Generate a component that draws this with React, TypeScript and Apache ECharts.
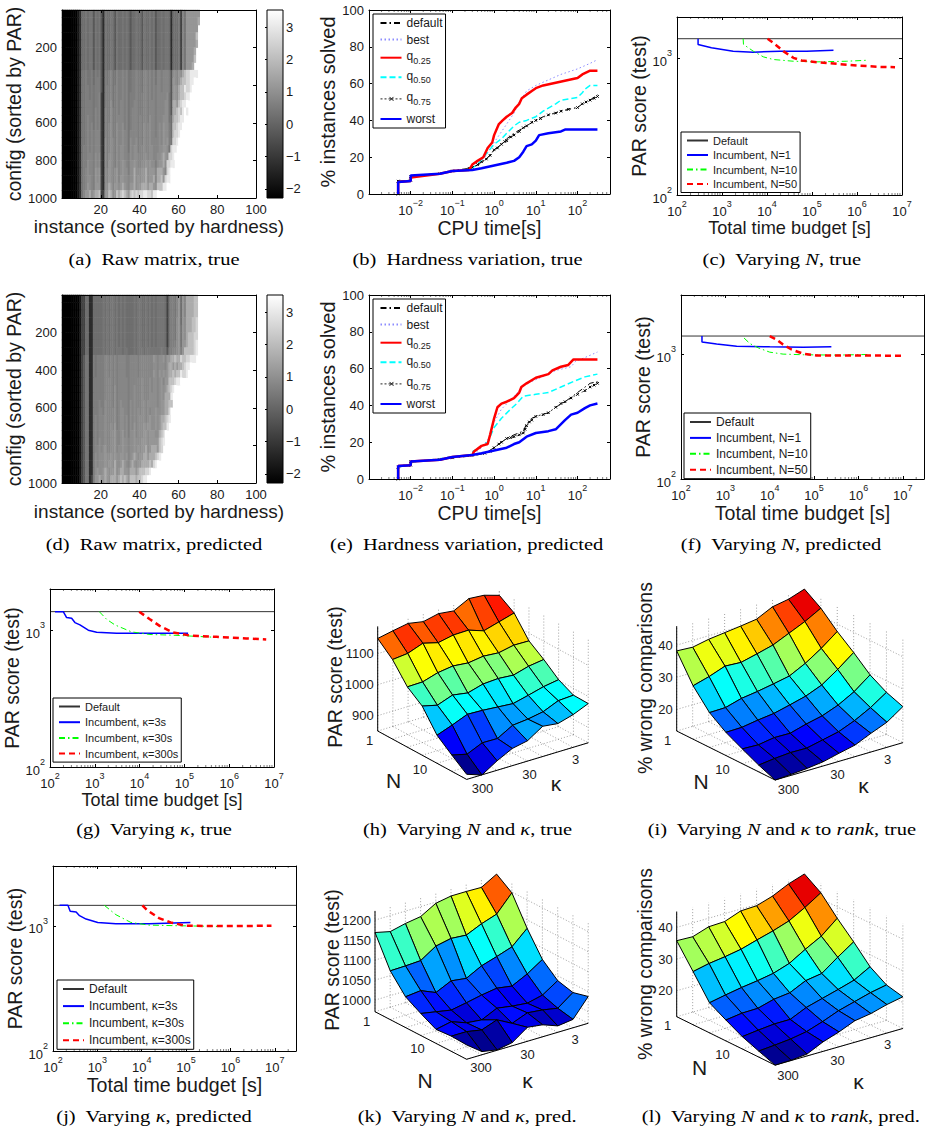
import React, { useEffect, useRef } from "react";
import * as echarts from "echarts";

const SANS = "Liberation Sans";
const SERIF = "Liberation Serif";
const INK = "#1a1a1a";

// ---------- (a)/(d) raw matrices: 25 rows (40 configs each), one hex digit per instance; missing = white
const matrixA = [
  "0000000012 5565664656 4265565465 5656545565 5465565645 5656652555 6386aaaaaa a",
  "0000000012 5565664656 4265565465 5656545565 5465565645 5656652555 6386aaaaaa b",
  "0000000012 5565664656 4265565465 5656545565 5465565645 5656652555 6386aaaaaa",
  "0000000012 5565664656 4265565465 5656545565 5465565645 5656652555 6386aaaaac",
  "0000000012 5565664656 4265565465 5656545565 5465565645 5656652555 6386aaaaab",
  "0000000012 5565664656 4265565465 5656545565 5465565645 5656652555 6386aaaab",
  "0000000012 5565664656 4265565465 5656545565 5465565645 5656652555 6386aaaac",
  "0000000012 5565664656 4265565465 5656545565 5465565645 5656652555 6386aaab",
  "0000000012 6676675767 4276786687 7878667787 7688787868 8788874998 a9bcddeeee",
  "0000000012 6676675777 4276786687 7878667787 7688787868 8788874a98 abccddeef",
  "0000000012 6677676777 4277786787 7878667787 7688787878 8788874aa9 bcceddef",
  "0000000012 6677676778 3277786787 7878677787 7788787878 8888964aa9 bccdeef",
  "0000000012 6677776778 3277796787 8878677887 7788788878 8889964bba cdeef",
  "0000000012 6677776878 3287797787 8878678887 7788788878 8889964bbc dcefe",
  "0000000012 6678776878 3287797788 8878678887 8788798878 8899965bcc deef",
  "0000000012 6678786878 3287897798 8978678887 8798898878 98a9975ccd eef",
  "0000000012 6678787888 3287897798 8988688887 8798898878 98a9975cdd ef",
  "0000000012 6678787888 3297898798 8988698897 8798898888 98a9a76dde f",
  "0000000012 6778787888 3297898798 9988698997 8898899888 99aa96dee",
  "0000000012 6778887989 3297998798 9988798998 8899899889 9aba9ddef",
  "0000000012 6779887989 3297a98798 9a98799a98 899a9a9979 aab9ddee",
  "0000000012 6789887a9a 3298a989a8 9a99799b99 9aab9aaa8b bba8def",
  "0000000012 6789987a9a 3298a989a8 aa99899b9a 9aab9aab8b bcadeef",
  "0000000012 678a987aaa 3299ba8aa9 aba98aab9a abbbabba9c cceef",
  "0000000012 68aab9abbc 33aacb9acb cdcbacdcdc ddeeddceef",
];
const matrixD = [
  "0000000001 3355225555 5656566565 6565555656 6556565656 6665367768 a5a8bbbbcc",
  "0000000001 3355225555 5656566565 6565555656 6556565656 6665367768 a5a8bbbbcc",
  "0000000001 3355225555 5656566565 6565555656 6556565656 6665367768 a5a8bbbbcc",
  "0000000001 3355225555 5656566565 6565555656 6556565656 6665367769 a5a9bbbccd",
  "0000000001 3355225555 5656566565 6565555656 6556565656 6665367769 a6a9bbbccd",
  "0000000001 3355225555 5656566565 6565555656 6556565656 6665367769 a6a9bcccdd",
  "0000000001 3355225555 5656566565 6565555656 6556565656 6665367779 a6aabcccde",
  "0000000001 3355225555 5656566566 6566555656 6656666666 6766477889 a7acccccde",
  "0000000001 3466227677 7788787878 8887788887 8888888a98 99a8aabbcb bdccddeee",
  "0000000001 3466227677 7788787878 8887788887 8888888998 9998abbaba bbcdeef",
  "0000000001 3466227677 7788787878 8887788887 8888888a98 a9a9abbcbc ceddef",
  "0000000001 3466227777 7788887878 8888788888 8988898998 9a8aacccde ef",
  "0000000001 3466227777 7788887978 8888788988 8988898998 9a9abcdef",
  "0000000001 3466227777 7788887978 8888788988 8988899998 9a9bbbe",
  "0000000001 3466227778 7798887978 9888798988 8998999998 9aabbcc",
  "0000000001 3466227778 8798888978 9988798989 89989899a9 9aabbdf",
  "0000000001 3466227878 8898888978 9989798989 99989a99a9 abbcde",
  "0000000001 3466227878 8898898a78 9989798a89 99a9aa99a9 abcce",
  "0000000001 3466227878 8898899a88 9a89799a89 99aa9aaa99 bcdf",
  "0000000001 3466227879 8898899a88 9a99899a99 9aaa9aaaaa cde",
  "0000000001 3466227889 89a8899a89 9a99899a9a 9aab9abbba cd",
  "0000000001 3466227989 99a99a9a99 aa9a89aba9 aabbabbbcd e",
  "0000000001 3466227989 99a9aa9b99 aba98aba9a abbbbcbdef",
  "0000000001 34662279a9 9aba9aab9a bbaa9bbbab cccddef",
  "0000000001 3466237aab aaba9bbbab cbcbacccbc cdeeff",
];

// ---------- (b) hardness variation, true
const bDefault = [[0.005,0],[0.005,7],[0.01,7.5],[0.01,9.5],[0.05,11],[0.1,12.5],[0.25,14],[0.35,15],[0.5,17],[0.8,21],[1,24],[1.5,27],[2,30],[3,33],[5,36],[7,38],[10,40],[15,42],[20,43],[40,45],[60,46],[100,47],[130,49],[200,51],[300,54]];
const bBest = [[0.005,0],[0.005,6.5],[0.01,7],[0.01,9],[0.05,11],[0.1,12.5],[0.25,13],[0.4,16],[0.6,20],[1,28],[2,38],[3,44],[4,50],[6,56],[10,59],[20,62],[40,65],[100,68],[200,71],[300,73]];
const bQ25 = [[0.005,0],[0.005,6.5],[0.01,7],[0.01,9],[0.05,11],[0.1,12.5],[0.25,13],[0.3,16],[0.4,18],[0.55,20],[0.7,25],[0.9,28],[1,32],[1.3,38],[1.6,40],[2,42],[2.7,44],[3.3,47],[4,49],[4.6,52],[6,54],[8,56],[10,57.5],[15,59],[30,60.5],[60,62],[100,63],[130,65],[200,67],[300,67]];
const bQ50 = [[0.005,0],[0.005,6.5],[0.01,7],[0.01,9.5],[0.05,11],[0.1,12.5],[0.25,13],[0.4,16],[0.6,21],[1,27],[1.5,30],[2,33],[3,37],[4,39],[6,40],[10,42],[15,45],[30,49],[40,51],[100,52.5],[130,55],[150,57],[200,59],[300,59]];
const bQ75 = [[0.005,0],[0.005,7],[0.01,7.5],[0.01,9.5],[0.05,11],[0.1,12.5],[0.25,14],[0.3,14.5],[0.4,16],[0.5,17.5],[0.65,19],[0.8,21],[1,24],[1.2,25],[1.5,27],[1.8,28.5],[2,29],[2.5,31],[3,32],[4,34],[5,36],[6,37],[8,39],[10,40],[13,41],[20,43],[30,44],[40,45],[60,46],[100,47],[130,49],[160,50],[200,51],[250,52],[300,53]];
const bWorst = [[0.005,0],[0.005,6.5],[0.01,7],[0.01,10],[0.05,11],[0.1,12.5],[0.3,13],[0.5,14],[1,15.5],[2,17],[3,18],[4,20],[5,23],[6,26],[8,27],[10,29],[12,32],[20,33],[40,34],[50,35],[300,35]];

// ---------- (e) hardness variation, predicted
const eDefault = [[0.005,0],[0.005,7],[0.01,8],[0.01,9.5],[0.05,10.5],[0.1,11.5],[0.3,12.5],[0.6,14],[1,17],[1.5,20],[2,22],[3,24],[5,26],[6,30],[8,33],[10,34],[20,36],[30,39],[50,42],[100,47],[200,52],[300,53]];
const eBest = [[0.005,0],[0.005,6.5],[0.01,7.5],[0.01,9.5],[0.05,10.5],[0.1,12],[0.3,13],[0.5,17],[0.8,23],[1,31],[1.5,38],[2.5,43],[4,48],[5,51],[10,54],[20,57],[30,59],[70,61],[90,64],[150,66],[300,69]];
const eQ25 = [[0.005,0],[0.005,7],[0.01,7.5],[0.01,9.5],[0.05,10.5],[0.1,12],[0.3,13],[0.33,15],[0.5,18],[0.7,19],[0.8,24],[1,33],[1.2,39],[1.5,41],[2,42],[3,44],[4,47],[4.5,50],[6,52],[10,55],[20,57],[25,59],[40,61],[60,62],[80,65],[300,65]];
const eQ50 = [[0.005,0],[0.005,6.5],[0.01,7.5],[0.01,9],[0.05,11],[0.1,12],[0.3,13],[0.31,15],[0.5,18],[0.7,20],[1,28],[1.5,33],[2.5,38],[3.5,41],[5,45],[10,46],[20,47],[40,50],[80,53],[150,55.5],[300,57]];
const eQ75 = [[0.005,0],[0.005,6.5],[0.01,7.5],[0.01,9.5],[0.05,10.5],[0.1,11.5],[0.3,13],[0.6,14],[0.8,15],[1,17],[1.3,19],[1.5,20],[2,22],[2.5,22.5],[3,23],[4,24],[5,25],[5.5,27],[6,29],[7,31],[8,32],[10,34],[15,35],[20,36],[30,39],[40,41],[50,42],[70,44],[100,46],[150,48],[200,50],[250,51],[300,52]];
const eWorst = [[0.005,0],[0.005,7],[0.01,7.5],[0.01,9.5],[0.05,10.5],[0.1,12],[0.3,13],[0.5,14],[1,15.5],[2,17],[3,19],[4,20],[6,23],[10,25],[20,26],[30,27],[50,32],[70,35],[100,36],[150,38.5],[200,40],[300,41]];

// ---------- (c) varying N, true
const cDefault = 1388;
const cN1 = [[294,1388],[294,1260],[582,1190],[1770,1126],[4940,1107],[19400,1126],[76000,1126],[300000,1145]];
const cN10 = [[2950,1388],[3000,1260],[4940,1126],[8260,1023],[13800,978],[38500,950],[127000,940],[594000,950],[1800000,967]];
const cN50 = [[10300,1388],[13800,1295],[23000,1126],[38500,1006],[58700,961],[127000,935],[355000,909],[1180000,880],[3300000,864],[7000000,859]];

// ---------- (f) varying N, predicted
const fDefault = 1405;
const fN1 = [[297,1405],[297,1260],[635,1215],[1795,1165],[10000,1150],[57000,1143],[245000,1150]];
const fN10 = [[2630,1356],[3580,1222],[5500,1130],[10000,1043],[20000,1006],[57000,994],[320000,988],[1800000,1000]];
const fN50 = [[10000,1405],[14300,1316],[20000,1200],[31000,1096],[57000,1012],[113000,982],[760000,982],[9300000,976]];

// ---------- (g) varying kappa, true
const gDefault = 1366;
const gK3 = [[129,1366],[198,1366],[235,1237],[304,1223],[360,1137],[466,1093],[715,1000],[1100,967],[3060,951],[17000,951],[121000,951]];
const gK30 = [[1260,1366],[1830,1202],[2810,1093],[6600,972],[17000,930],[56000,919],[437000,889]];
const gK300 = [[9800,1366],[17000,1202],[28000,1075],[56000,962],[132000,914],[519000,894],[2400000,870],[6700000,855]];

// ---------- (j) varying kappa, predicted
const jDefault = 1455;
const jK3 = [[141,1456],[217,1456],[244,1303],[332,1287],[396,1203],[557,1131],[1020,1063],[2620,1037],[14600,1037],[125000,1063]];
const jK30 = [[1435,1456],[2620,1225],[5680,1063],[14600,1012],[68500,1000],[537000,988]];
const jK300 = [[10350,1456],[13400,1327],[24400,1152],[44700,1063],[96600,1000],[760000,994],[8400000,1000]];

// ---------- surfaces: rows are N (1 .. 300), columns are kappa (300 .. 3)
const surfaceH = [
  [1149,1159,1168,1159,1170,1164,1189,1185,1170],
  [1107,1112,1130,1117,1127,1128,1111,1125,1139],
  [1045,1046,1061,1068,1063,1070,1066,1076,1075],
  [1009,997,1015,1007,1021,1024,1020,1034,1041],
  [941,959,979,977,973,969,981,994,1002],
  [903,891,913,912,940,945,954,975,978],
  [867,850,881,906,916,948,942,956,977],
];
const surfaceI = [
  [38.2,37.9,38.9,39.5,40.1,40.8,43.2,44.1,45.8],
  [29.9,31.3,33.1,32.8,34,35.3,37.5,39.7,42.4],
  [24.1,24.2,25.6,26.3,27.2,28.2,30.7,33.9,37.7],
  [20.5,20.6,21.4,22,23.2,24.5,26.5,29.9,33.7],
  [17.9,17.7,18.5,18.4,19.8,20.9,22.8,25.5,29.3],
  [15.4,16,16.4,16.3,17.4,18.5,20.5,23.1,26.4],
  [13.3,13.6,14,14.6,15.8,16.9,19.1,21.1,24.5],
];
const surfaceK = [
  [1169,1160,1169,1175,1197,1204,1204,1203,1225],
  [1093,1094,1096,1121,1129,1126,1143,1156,1198],
  [1048,1052,1036,1054,1049,1069,1081,1094,1129],
  [1026,1019,1012,1019,1027,1033,1027,1046,1071],
  [1006,1014,1000,996,1014,1008,1004,1013,1038],
  [1009,1009,1002,1016,996,1011,1007,1000,1028],
  [1007,979,972,979,1006,1001,987,992,1038],
];
const surfaceL = [
  [35.8,35.6,37.3,37.5,39.4,39.6,41.2,43.6,45.3],
  [28.6,29.7,30.4,31.3,32.8,34.2,35.9,38.7,41.9],
  [21.3,22.3,23.2,23.9,24.8,26.5,29.5,32.2,36.4],
  [18.4,19.1,19.2,20.6,21.2,23.6,24.4,28.1,31.5],
  [15.7,16.3,16.8,16.8,19.1,20.5,21.9,23.4,26.2],
  [13.7,14.1,14.6,15.5,17.2,19.2,20.6,22,23],
  [11.8,11.9,12.4,14.8,16.5,18.6,19.4,20.8,21.8],
];

const xTicksMatrix = [20, 40, 60, 80, 100];
const colorbarTicks = [-2, -1, 0, 1, 2, 3];

const captions: [string, number, number][] = [
  ["(a)  Raw matrix, true", 154, 259],
  ["(b)  Hardness variation, true", 467.5, 259],
  ["(c)  Varying {it|N}, true", 781.7, 259],
  ["(d)  Raw matrix, predicted", 154, 544],
  ["(e)  Hardness variation, predicted", 466.7, 544],
  ["(f)  Varying {it|N}, predicted", 781, 544],
  ["(g)  Varying {it|κ}, true", 154, 829],
  ["(h)  Varying {it|N} and {it|κ}, true", 467.5, 829],
  ["(i)  Varying {it|N} and {it|κ} to {it|rank}, true", 781.7, 829],
  ["(j)  Varying {it|κ}, predicted", 154, 1115.7],
  ["(k)  Varying {it|N} and {it|κ}, pred.", 467, 1115.7],
  ["(l)  Varying {it|N} and {it|κ} to {it|rank}, pred.", 780.7, 1115.7],
];

// ---------- option parts
const grids: any[] = [];
const xAxes: any[] = [];
const yAxes: any[] = [];
const series: any[] = [];
const legends: any[] = [];
const graphics: any[] = [];
const heatSeries: number[] = [];

const tickStyle = { show: true, inside: true, length: 3, lineStyle: { color: "#000", width: 1 } };
const lineStyleAxis = { show: true, onZero: false, lineStyle: { color: "#000", width: 1 } };
const labelBase = { color: INK, fontFamily: SANS, fontSize: 13 };

function powLabel(v: number, hide: number | null) {
  const e = Math.log10(v);
  const r = Math.round(e);
  if (Math.abs(e - r) > 1e-6 || r === hide) return "";
  return `{b|10}{e|${r < 0 ? "−" + -r : r}}`;
}
const powRich = {
  b: { fontSize: 13, color: INK, fontFamily: SANS, lineHeight: 19, verticalAlign: "bottom" },
  e: { fontSize: 9, color: INK, fontFamily: SANS, verticalAlign: "top" },
};

function addGrid(b: number[]) {
  grids.push({ left: b[0], top: b[1], width: b[2] - b[0], height: b[3] - b[1], containLabel: false });
  return grids.length - 1;
}
function mirrorAxes(gridIndex: number, xBase: any, yBase: any) {
  xAxes.push({ ...xBase, gridIndex, position: "top", name: "", axisLabel: { show: false }, axisLine: lineStyleAxis, axisTick: tickStyle, splitLine: { show: false }, z: 5 });
  yAxes.push({ ...yBase, gridIndex, position: "right", name: "", axisLabel: { show: false }, axisLine: lineStyleAxis, axisTick: tickStyle, splitLine: { show: false }, z: 5 });
}

function addMatrix(box: number[], rows: string[], nameGapX: number) {
  const gridIndex = addGrid(box);
  const xi = xAxes.length;
  const yi = yAxes.length;
  const cols: string[] = [];
  for (let c = 1; c <= 100; c++) cols.push(String(c));
  xAxes.push({ type: "category", gridIndex, data: cols, show: false });
  yAxes.push({ type: "category", gridIndex, data: rows.map((_, i) => String(i)), show: false, inverse: true });
  const data: number[][] = [];
  rows.forEach((row, r) => {
    row.replace(/ /g, "").split("").forEach((ch, c) => {
      data.push([c, r, parseInt(ch, 16)]);
    });
  });
  heatSeries.push(series.length);
  series.push({ type: "heatmap", xAxisIndex: xi, yAxisIndex: yi, data, progressive: 0, silent: true, emphasis: { disabled: true } });
  const xv = { type: "value", min: 0, max: 100, interval: 20 };
  const yv = { type: "value", min: 0, max: 1000, interval: 200, inverse: true };
  xAxes.push({
    ...xv, gridIndex, position: "bottom", z: 5, axisLine: lineStyleAxis, axisTick: tickStyle, splitLine: { show: false },
    axisLabel: { ...labelBase, margin: 5, formatter: (v: number) => (xTicksMatrix.includes(v) ? String(v) : "") },
    name: "instance (sorted by hardness)", nameLocation: "middle", nameGap: nameGapX,
    nameTextStyle: { fontFamily: SANS, fontSize: 19, color: INK },
  });
  yAxes.push({
    ...yv, gridIndex, position: "left", z: 5, axisLine: lineStyleAxis, axisTick: tickStyle, splitLine: { show: false },
    axisLabel: { ...labelBase, margin: 5, formatter: (v: number) => (v === 0 ? "" : String(v)) },
    name: "config (sorted by PAR)", nameLocation: "middle", nameGap: 32,
    nameTextStyle: { fontFamily: SANS, fontSize: 19.5, color: INK },
  });
  mirrorAxes(gridIndex, xv, yv);
  // colour bar
  const cb = [box[0] + 205, box[1], box[0] + 221, box[3]];
  const cg = addGrid(cb);
  const cx = xAxes.length;
  const cy = yAxes.length;
  xAxes.push({ type: "value", gridIndex: cg, min: 0, max: 1, show: false });
  yAxes.push({
    type: "value", gridIndex: cg, min: -2.28, max: 3.53, position: "right", z: 5,
    axisLine: { show: false }, splitLine: { show: false },
    axisTick: { show: true, inside: true, length: 2, customValues: colorbarTicks, lineStyle: { color: "#000" } },
    axisLabel: { ...labelBase, margin: 3, customValues: colorbarTicks, formatter: (v: number) => (v < 0 ? "−" + -v : String(v)) },
  });
  series.push({
    type: "custom", xAxisIndex: cx, yAxisIndex: cy, silent: true, data: [[0, 1, -2.28, 3.53]],
    renderItem: (_: any, api: any) => {
      const p0 = api.coord([api.value(0), api.value(3)]);
      const p1 = api.coord([api.value(1), api.value(2)]);
      return {
        type: "rect",
        shape: { x: p0[0], y: p0[1], width: p1[0] - p0[0], height: p1[1] - p0[1] },
        style: { fill: new echarts.graphic.LinearGradient(0, 1, 0, 0, [{ offset: 0, color: "#000" }, { offset: 1, color: "#fff" }]) },
      };
    },
  });
  graphics.push({
    type: "rect", z: 100, silent: true,
    shape: { x: cb[0], y: cb[1], width: cb[2] - cb[0], height: cb[3] - cb[1] },
    style: { fill: "none", stroke: "#000", lineWidth: 1 },
  });
}

const DD = [6, 3, 1.5, 3];
const styleOf: Record<string, any> = {
  default: { color: "#000", width: 1, type: DD },
  best: { color: "#8c8cff", width: 1, type: [1.5, 2.5] },
  "q0.25": { color: "#ff0000", width: 2.5, type: "solid" },
  "q0.50": { color: "#00ffff", width: 1.5, type: [6, 3] },
  "q0.75": { color: "#555", width: 1, type: [1.5, 3] },
  worst: { color: "#0000ff", width: 2.5, type: "solid" },
  Default: { color: "#333", width: 1, type: "solid" },
  blue: { color: "#0000ff", width: 1.5, type: "solid" },
  green: { color: "#00ff00", width: 1, type: DD },
  red: { color: "#ff0000", width: 2.5, type: [6, 4] },
};
const noMarker = { opacity: 0, color: "transparent", borderColor: "transparent", borderWidth: 0 };
const q75Icon = "path://M0 0L0 0M0 14L0 14M0 7L2 7M4 7L6 7M8 7L13 7M15 7L17 7M19 7L21 7M9 5L13 9M13 5L9 9";

function minorValues(min: number, max: number) {
  const out: number[] = [];
  for (let e = Math.floor(Math.log10(min)); e <= Math.log10(max); e++) {
    for (const m of [2, 3, 4, 5, 6, 7, 8, 9]) {
      const v = m * Math.pow(10, e);
      if (v > min && v < max) out.push(v);
    }
  }
  return out;
}

function addMinorTicks(xi: number, yi: number, xMin: number, xMax: number, yMin: number, yMax: number) {
  series.push({
    type: "custom", xAxisIndex: xi, yAxisIndex: yi, silent: true, clip: false,
    data: minorValues(xMin, xMax).map((v) => [v]),
    renderItem: (_: any, api: any) => {
      const a = api.coord([api.value(0), yMin]);
      const b = api.coord([api.value(0), yMax]);
      const s = { stroke: "#444", lineWidth: 0.7 };
      return {
        type: "group",
        children: [
          { type: "line", shape: { x1: a[0], y1: a[1], x2: a[0], y2: a[1] - 2 }, style: s },
          { type: "line", shape: { x1: b[0], y1: b[1], x2: b[0], y2: b[1] + 2 }, style: s },
        ],
      };
    },
  });
}

function addHardness(box: number[], sets: [string, number[][]][], legendPos: number[]) {
  const gridIndex = addGrid(box);
  const xi = xAxes.length;
  const yi = yAxes.length;
  const xb = { type: "log", logBase: 10, min: 0.001, max: 600 };
  const yb = { type: "value", min: 0, max: 100, interval: 20 };
  xAxes.push({
    ...xb, gridIndex, position: "bottom", z: 5, axisLine: lineStyleAxis, axisTick: tickStyle, splitLine: { show: false },
    axisLabel: { margin: 4, formatter: (v: number) => powLabel(v, -3), rich: powRich, showMinLabel: false },
    name: "CPU time[s]", nameLocation: "middle", nameGap: 20,
    nameTextStyle: { fontFamily: SANS, fontSize: 19.5, color: INK },
  });
  yAxes.push({
    ...yb, gridIndex, position: "left", z: 5, axisLine: lineStyleAxis, axisTick: tickStyle, splitLine: { show: false },
    axisLabel: { ...labelBase, margin: 5 },
    name: "% instances solved", nameLocation: "middle", nameGap: 26,
    nameTextStyle: { fontFamily: SANS, fontSize: 20, color: INK },
  });
  mirrorAxes(gridIndex, xb, yb);
  for (const [name, data] of sets) {
    const marked = name === "q0.75";
    series.push({
      type: "line", name, xAxisIndex: xi, yAxisIndex: yi, data, color: styleOf[name].color,
      lineStyle: styleOf[name], silent: true, z: name === "q0.25" || name === "worst" ? 4 : 3,
      symbol: marked ? "path://M0 0L10 10M10 0L0 10L5 5Z" : "none",
      symbolSize: 2.5, showSymbol: marked,
      itemStyle: { color: "#000", borderColor: "#000", borderWidth: 1 },
    });
  }
  addMinorTicks(xi, yi, 0.001, 600, 0, 100);
  legends.push({
    data: sets.map((s) =>
      s[0] === "q0.75"
        ? { name: s[0], icon: q75Icon, itemStyle: { color: "none", borderColor: "#222", borderWidth: 1 } }
        : { name: s[0], itemStyle: noMarker }
    ),
    left: legendPos[0], top: legendPos[1], orient: "vertical",
    selectedMode: false, itemWidth: 21, itemHeight: 14, itemGap: 4.6, padding: [3, 3, 3, 5],
    backgroundColor: "#fff", borderColor: "#000", borderWidth: 1, z: 20,
    formatter: (n: string) => (n[0] === "q" ? `{b|q}{s|${n.slice(1)}}` : n),
    textStyle: {
      fontFamily: SANS, fontSize: 12, color: INK,
      rich: {
        b: { fontFamily: SANS, fontSize: 12, color: INK, verticalAlign: "top", lineHeight: 15 },
        s: { fontFamily: SANS, fontSize: 9, color: INK, verticalAlign: "bottom" },
      },
    },
  });
}

function addBudget(o: {
  box: number[]; xMax: number; yMax: number; def: number; names: string[]; sets: number[][][];
  legend: number[]; font: number; rowGap: number; nameSize: number; gapX: number; gapY: number;
}) {
  const gridIndex = addGrid(o.box);
  const xi = xAxes.length;
  const yi = yAxes.length;
  const xb = { type: "log", logBase: 10, min: 100, max: o.xMax };
  const yb = { type: "log", logBase: 10, min: 100, max: o.yMax };
  xAxes.push({
    ...xb, gridIndex, position: "bottom", z: 5, axisLine: lineStyleAxis, axisTick: tickStyle, splitLine: { show: false },
    axisLabel: { margin: 4, formatter: (v: number) => powLabel(v, null), rich: powRich },
    name: "Total time budget [s]", nameLocation: "middle", nameGap: o.gapX,
    nameTextStyle: { fontFamily: SANS, fontSize: o.nameSize, color: INK },
  });
  yAxes.push({
    ...yb, gridIndex, position: "left", z: 5, axisLine: lineStyleAxis, axisTick: tickStyle, splitLine: { show: false },
    axisLabel: { margin: 5, formatter: (v: number) => powLabel(v, null), rich: powRich },
    name: "PAR score (test)", nameLocation: "middle", nameGap: o.gapY,
    nameTextStyle: { fontFamily: SANS, fontSize: 19.5, color: INK },
  });
  mirrorAxes(gridIndex, xb, yb);
  series.push({
    type: "line", name: "Default", xAxisIndex: xi, yAxisIndex: yi, silent: true, symbol: "none",
    data: [[100, o.def], [o.xMax, o.def]], color: styleOf.Default.color, lineStyle: styleOf.Default,
  });
  const keys = ["blue", "green", "red"];
  o.sets.forEach((data, i) => {
    const st = styleOf[keys[i]];
    series.push({
      type: "line", name: o.names[i], xAxisIndex: xi, yAxisIndex: yi, silent: true, symbol: "none",
      data, color: st.color, lineStyle: st, z: 3 + i,
    });
  });
  addMinorTicks(xi, yi, 100, o.xMax, 100, o.yMax);
  legends.push({
    data: ["Default", ...o.names].map((name) => ({ name, itemStyle: noMarker })),
    left: o.legend[0], top: o.legend[1], orient: "vertical",
    selectedMode: false, itemWidth: 21, itemHeight: 11, itemGap: o.rowGap - 11, padding: [3, 3, 3, 5],
    backgroundColor: "#fff", borderColor: "#000", borderWidth: 1, z: 20,
    textStyle: { fontFamily: SANS, fontSize: o.font, color: INK },
  });
}

// ---------- 3D surfaces through a page-sized hidden cartesian system
const jetStops: [number, number[]][] = [
  [0, [0, 0, 143]], [0.125, [0, 0, 255]], [0.375, [0, 255, 255]],
  [0.625, [255, 255, 0]], [0.875, [255, 0, 0]], [1, [128, 0, 0]],
];
function jet(t: number) {
  const v = Math.max(0, Math.min(1, t));
  for (let k = 1; k < jetStops.length; k++) {
    if (v <= jetStops[k][0]) {
      const [a, ca] = jetStops[k - 1];
      const [b, cb] = jetStops[k];
      const f = (v - a) / (b - a);
      return `rgb(${ca.map((c, n) => Math.round(c + (cb[n] - c) * f)).join(",")})`;
    }
  }
  return "rgb(128,0,0)";
}

function addSurface(o: {
  values: number[][]; origin: number[]; dN: number[]; dK: number[]; zBase: number; zTop: number; zPx: number;
  zTicks: number[]; yName: string; yNamePos: number[]; ticks: [string, number, number][]; names: [string, number, number][];
  cHi?: number;
}) {
  const pageGrid = 0;
  const project = (i: number, j: number, z: number) => [
    o.origin[0] + i * o.dN[0] + j * o.dK[0],
    o.origin[1] + i * o.dN[1] + j * o.dK[1] - (z - o.zBase) * o.zPx,
  ];
  const nI = o.values.length - 1;
  const nJ = o.values[0].length - 1;
  const dotted: number[][] = [];
  for (let i = 0; i <= nI; i++) dotted.push([i, 0, o.zBase, i, nJ, o.zBase]);
  for (let j = 0; j <= nJ; j++) dotted.push([0, j, o.zBase, nI, j, o.zBase]);
  for (const z of o.zTicks) {
    dotted.push([0, 0, z, 0, nJ, z]);
    dotted.push([0, nJ, z, nI, nJ, z]);
  }
  for (let j = 0; j <= nJ; j++) dotted.push([0, j, o.zBase, 0, j, o.zTop]);
  for (let i = 0; i <= nI; i++) dotted.push([i, nJ, o.zBase, i, nJ, o.zTop]);
  const solid = [
    [0, 0, o.zBase, nI, 0, o.zBase],
    [nI, 0, o.zBase, nI, nJ, o.zBase],
    [0, 0, o.zBase, 0, 0, o.zTop],
  ];
  const segment = (stroke: string, lineWidth: number, lineDash?: number[]) => (_: any, api: any) => {
    const a = project(api.value(0), api.value(1), api.value(2));
    const b = project(api.value(3), api.value(4), api.value(5));
    const p = api.coord(a);
    const q = api.coord(b);
    return {
      type: "line", shape: { x1: p[0], y1: p[1], x2: q[0], y2: q[1] },
      style: { stroke, lineWidth, lineDash, fill: "none" },
    };
  };
  series.push({ type: "custom", xAxisIndex: pageGrid, yAxisIndex: pageGrid, silent: true, clip: false, z: 1, data: dotted, renderItem: segment("#777", 0.7, [1, 2]) });
  series.push({ type: "custom", xAxisIndex: pageGrid, yAxisIndex: pageGrid, silent: true, clip: false, z: 1, data: solid, renderItem: segment("#000", 1) });
  const flat = o.values.flat();
  const lo = Math.min(...flat);
  const hi = o.cHi ?? Math.max(...flat);
  const cells: number[][] = [];
  for (let i = 0; i < nI; i++) for (let j = nJ - 1; j >= 0; j--) cells.push([i, j, o.values[i + 1][j + 1]]);
  series.push({
    type: "custom", xAxisIndex: pageGrid, yAxisIndex: pageGrid, silent: true, clip: false, z: 2, data: cells,
    renderItem: (_: any, api: any) => {
      const i = api.value(0);
      const j = api.value(1);
      const corners = [[i, j], [i + 1, j], [i + 1, j + 1], [i, j + 1]];
      const points = corners.map(([a, b]) => api.coord(project(a, b, o.values[a][b])));
      return {
        type: "polygon", shape: { points },
        style: { fill: jet((api.value(2) - lo) / (hi - lo)), stroke: "#000", lineWidth: 1, lineJoin: "round" },
      };
    },
  });
  for (const z of o.zTicks) {
    const p = project(0, 0, z);
    graphics.push(txt(String(z), p[0] - 4, p[1], { fontSize: 13, align: "right" }));
  }
  graphics.push(txt(o.yName, o.yNamePos[0], o.yNamePos[1], { fontSize: 19.5, rotation: Math.PI / 2 }));
  for (const [t, x, y] of o.ticks) graphics.push(txt(t, x, y, { fontSize: 13 }));
  for (const [t, x, y] of o.names) graphics.push(txt(t, x, y, { fontSize: 21 }));
}

function txt(text: string, x: number, y: number, s: any) {
  return {
    type: "text", x, y, rotation: s.rotation || 0, z: 50, silent: true,
    style: { text, fontFamily: SANS, fontSize: s.fontSize, fill: INK, align: s.align || "center", verticalAlign: "middle" },
  };
}

function build() {
  // page-sized hidden cartesian for the projected surfaces
  grids.push({ left: 0, top: 0, width: 930, height: 1133, containLabel: false });
  xAxes.push({ type: "value", gridIndex: 0, min: 0, max: 930, show: false });
  yAxes.push({ type: "value", gridIndex: 0, min: 0, max: 1133, inverse: true, show: false });

  addMatrix([62, 10, 256, 198], matrixA, 16);
  addMatrix([62, 295, 256, 483], matrixD, 16);

  addHardness([369, 10, 610, 194], [["default", bDefault], ["best", bBest], ["q0.25", bQ25], ["q0.50", bQ50], ["q0.75", bQ75], ["worst", bWorst]], [373, 14]);
  addHardness([369, 295, 610, 479], [["default", eDefault], ["best", eBest], ["q0.25", eQ25], ["q0.50", eQ50], ["q0.75", eQ75], ["worst", eWorst]], [373, 299]);

  const nNames = ["Incumbent, N=1", "Incumbent, N=10", "Incumbent, N=50"];
  const kNames = ["Incumbent, κ=3s", "Incumbent, κ=30s", "Incumbent, κ=300s"];
  addBudget({ box: [677, 17, 902, 195], xMax: 1e7, yMax: 2000, def: cDefault, names: nNames, sets: [cN1, cN10, cN50], legend: [681, 132], font: 11, rowGap: 14.5, nameSize: 18.2, gapX: 19, gapY: 21 });
  addBudget({ box: [681, 295, 924, 479], xMax: 3e7, yMax: 3000, def: fDefault, names: nNames, sets: [fN1, fN10, fN50], legend: [684, 413], font: 12, rowGap: 14.9, nameSize: 19.6, gapX: 20, gapY: 25 });
  addBudget({ box: [50, 589, 274, 767], xMax: 1e7, yMax: 2000, def: gDefault, names: kNames, sets: [gK3, gK30, gK300], legend: [53, 698], font: 11, rowGap: 15.7, nameSize: 18, gapX: 18, gapY: 22 });
  addBudget({ box: [53, 866, 296, 1051], xMax: 3e7, yMax: 3000, def: jDefault, names: kNames, sets: [jK3, jK30, jK300], legend: [57, 980], font: 12, rowGap: 16.1, nameSize: 19.6, gapX: 19, gapY: 25 });

  addSurface({
    values: surfaceH, origin: [377.7, 731], dN: [14.83, 8.07], dK: [15.2, -4.58], zBase: 850.5, zTop: 1188, zPx: 0.31,
    zTicks: [900, 1000, 1100], yName: "PAR score (test)", yNamePos: [335, 677],
    ticks: [["1", 369.5, 740.5], ["10", 420, 769], ["300", 482.5, 788.5], ["3", 575.5, 759], ["30", 529.5, 774]],
    names: [["N", 393.5, 780], ["κ", 556, 783]],
  });
  addSurface({
    values: surfaceI, origin: [676.7, 731], dN: [16.4, 8.17], dK: [15.97, -4.67], zBase: 13.3, zTop: 45.9, zPx: 3.217,
    zTicks: [20, 30, 40], yName: "% wrong comparisons", yNamePos: [645, 678],
    ticks: [["1", 667.5, 740], ["10", 722.5, 769], ["300", 788.5, 789.5], ["3", 887.5, 759], ["30", 837.5, 774]],
    names: [["N", 701, 781.5], ["κ", 863.5, 785]],
  });
  addSurface({
    values: surfaceK, origin: [375, 1011.7], dN: [15.27, 7.93], dK: [15.2, -4.5], zBase: 971, zTop: 1223, zPx: 0.4, cHi: 1260,
    zTicks: [1000, 1050, 1100, 1150, 1200], yName: "PAR score (test)", yNamePos: [332, 960],
    ticks: [["1", 366.5, 1021], ["10", 417.5, 1048], ["300", 481, 1067.5], ["3", 575, 1039], ["30", 527.5, 1054]],
    names: [["N", 425, 1080], ["κ", 527.5, 1080]],
  });
  addSurface({
    values: surfaceL, origin: [676.7, 1016.7], dN: [16.4, 8.07], dK: [15.97, -4.58], zBase: 11.8, zTop: 45, zPx: 3.167,
    zTicks: [20, 30, 40], yName: "% wrong comparisons", yNamePos: [645, 964],
    ticks: [["1", 667.5, 1025.7], ["10", 722.5, 1054], ["300", 788, 1075], ["3", 887.5, 1044.3], ["30", 837.5, 1060]],
    names: [["N", 699.5, 1067.5], ["κ", 858.5, 1081]],
  });

  for (const [text, x, y] of captions) {
    graphics.push({
      type: "text", x, y, scaleX: 1.17, z: 50, silent: true,
      style: {
        text, fontFamily: SERIF, fontSize: 17.5, fill: "#000", align: "center", verticalAlign: "middle",
        rich: { it: { fontFamily: SERIF, fontSize: 17.5, fontStyle: "italic", fill: "#000" } },
      },
    });
  }
}

let built = false;

export default function App() {
  const ref = useRef<HTMLDivElement>(null);
  useEffect(() => {
    document.body.style.margin = "0";
    if (!built) {
      build();
      built = true;
    }
    const chart = echarts.init(ref.current!, null, { renderer: "svg" });
    chart.setOption({
      animation: false,
      backgroundColor: "#fff",
      grid: grids,
      xAxis: xAxes,
      yAxis: yAxes,
      legend: legends,
      visualMap: {
        show: false, type: "continuous", min: 0, max: 15, dimension: 2, seriesIndex: heatSeries,
        inRange: { color: ["#000000", "#6e6e6e", "#969696", "#ffffff"] },
      },
      graphic: { elements: graphics },
      series,
    });
    return () => chart.dispose();
  }, []);
  return <div ref={ref} style={{ position: "absolute", left: 0, top: 0, width: 930, height: 1133 }} />;
}
